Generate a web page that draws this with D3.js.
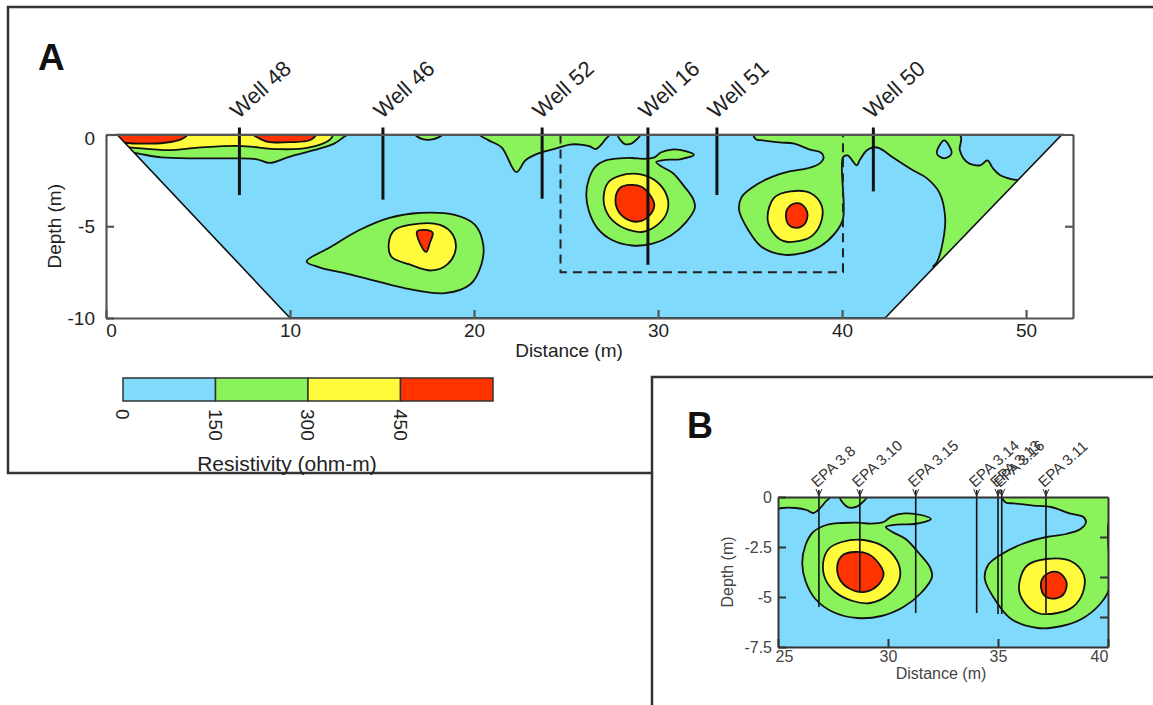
<!DOCTYPE html>
<html>
<head>
<meta charset="utf-8">
<script src="https://cdn.jsdelivr.net/npm/d3@7"></script>
<style>
  body { margin: 0; background: #fff; }
  svg { display: block; font-family: "Liberation Sans", Arial, sans-serif; }
</style>
</head>
<body>
<div id="chart"></div>
<script>
// ---- data (distance in m, depth in m) ----
const distTicksA = [0, 10, 20, 30, 40, 50];
const depthTicksA = [0, -5, -10];
const distTicksB = [25, 30, 35, 40];
const depthTicksB = [0, -2.5, -5, -7.5];
const rightTicksB = [-2, -4, -6];

// resistivity classes (ohm-m)
const resistivityBreaks = [0, 150, 300, 450, 600];
const resistivityLabels = [0, 150, 300, 450];
const classColors = ['#80dafc', '#8af35c', '#fffb3c', '#ff3300'];

// survey area (trapezoid) and zoom window of panel B
const surveyOutline = [[0.6, 0], [51.95, 0], [42.34, -10], [10.0, -10]];
const zoomDist = [24.7, 40.05];
const zoomDepth = [0, -7.5];

// wells on panel A
const wellNames = ['Well 48', 'Well 46', 'Well 52', 'Well 16', 'Well 51', 'Well 50'];
const wellDist = [7.25, 15.05, 23.7, 29.45, 33.2, 41.7];
const wellBottom = [-3.3, -3.55, -3.5, -7.1, -3.3, -3.1];

// EPA wells on panel B
const epaNames = ['EPA 3.8', 'EPA 3.10', 'EPA 3.15', 'EPA 3.14', 'EPA 3.13', 'EPA 3.16', 'EPA 3.11'];
const epaDist = [26.86, 28.72, 31.26, 34.03, 35.0, 35.17, 37.18];
const epaBottom = [-5.5, -4.75, -5.8, -5.8, -5.85, -5.85, -5.8];

// contour zones > 150 ohm-m
const greenZones = [
  [[0, 0], [13.1, 0], [12.9, -0.15], [12.4, -0.5], [11.3, -0.85], [10, -1.2], [8.9, -1.55], [8.2, -1.35],
   [7, -1.3], [5, -1.3], [3, -1.25], [1.5, -1.0], [0, -0.9]],
  [[16.8, 0], [18.3, 0], [17.8, -0.25], [17.2, -0.25]],
  [[20.3, 0], [20.8, -0.32], [21.5, -0.7], [22.3, -2.05], [22.8, -1.4], [23.5, -1.03], [24.6, -0.72],
   [25.2, -0.55], [25.8, -0.55], [26.3, -0.65], [26.6, -0.8], [26.9, -0.57], [27.15, -0.25], [27.35, 0]],
  [[27.82, 0], [27.97, -0.32], [28.2, -0.52], [28.58, -0.48], [28.88, -0.23], [29.03, 0]],
  [[27.9, -1.3], [27.2, -1.4], [26.6, -1.75], [26.25, -2.4], [26.1, -3.3], [26.25, -4.2], [26.7, -5.1],
   [27.5, -5.75], [28.6, -6.05], [29.7, -5.95], [30.7, -5.5], [31.5, -4.8], [32.0, -4.0], [31.9, -3.5],
   [31.4, -2.8], [30.8, -2.1], [30.2, -1.75], [29.9, -1.5], [30.4, -1.38], [31.2, -1.35], [31.95, -1.1],
   [31.5, -0.9], [30.75, -0.82], [30.15, -0.98], [29.8, -1.25], [29.2, -1.33], [28.6, -1.28]],
  [[10.9, -6.92], [12.15, -6.16], [13.8, -5.19], [15.4, -4.54], [17.05, -4.27], [18.95, -4.38],
   [20.05, -4.92], [20.5, -6.0], [20.4, -7.08], [19.8, -8.16], [18.4, -8.65], [16.5, -8.43],
   [14.9, -8.05], [13.25, -7.62], [11.6, -7.24]],
  [[35.2, 0], [35.35, -0.27], [35.7, -0.32], [36.6, -0.43], [37.4, -0.5], [38.25, -0.82], [38.85, -0.98],
   [39.0, -1.25], [38.75, -1.6], [38.1, -1.85], [37.2, -2.0], [36.1, -2.35], [35.1, -2.9], [34.55, -3.4],
   [34.4, -4.1], [34.9, -5.2], [35.6, -6.1], [36.8, -6.55], [37.9, -6.45], [38.8, -6.1], [39.6, -5.4],
   [40.05, -4.6], [40.05, -1.24], [40.3, -1.14], [40.8, -1.68], [40.95, -1.41], [41.35, -0.86],
   [41.7, -0.7], [42.05, -0.76], [42.75, -1.24], [43.85, -1.95], [44.6, -2.38], [45.3, -3.19],
   [45.6, -4.49], [45.5, -5.73], [45.15, -6.97], [44.95, -7.2], [46, -7.25], [56, -7.25], [56, -2.49],
   [49.55, -2.49], [48.6, -2.22], [48.2, -1.84], [47.9, -1.41], [47.5, -1.68], [46.8, -1.51],
   [46.4, -0.86], [46.4, 0]]
];
// low-resistivity pockets inside the green zone
const blueHoles = [
  [[45.55, -0.32], [45.95, -1.03], [45.55, -1.3], [45.15, -1.03]]
];
// > 300 ohm-m
const yellowZones = [
  [[0, 0], [12.3, 0], [12.2, -0.25], [11, -0.72], [9.4, -0.8], [7.2, -0.62], [5, -0.72], [3.4, -0.85],
   [1.3, -0.7], [0, -0.6]],
  [[15.4, -5.73], [15.7, -5.19], [16.5, -4.92], [18.15, -4.92], [18.85, -5.46], [19.0, -6.27],
   [18.55, -7.08], [17.7, -7.41], [16.5, -7.08], [15.5, -6.65]],
  [[27.05, -3.3], [27.3, -2.6], [27.9, -2.25], [28.9, -2.15], [29.9, -2.55], [30.5, -3.4], [30.5, -4.2],
   [30.0, -4.9], [29.2, -5.3], [28.4, -5.2], [27.6, -4.75], [27.15, -4.1]],
  [[35.95, -4.5], [36.3, -3.45], [37.2, -3.1], [38.3, -3.2], [38.9, -3.9], [38.85, -4.8], [38.4, -5.5],
   [37.7, -5.8], [36.8, -5.8], [36.15, -5.2]]
];
// > 450 ohm-m
const redZones = [
  [[0, 0], [4.4, 0], [4.1, -0.25], [3.2, -0.45], [2, -0.5], [1, -0.45], [0, -0.3]],
  [[8.0, 0], [11.4, 0], [11.1, -0.3], [10, -0.42], [8.8, -0.4], [8.3, -0.2]],
  [[16.9, -5.3], [17.3, -5.2], [17.75, -5.35], [17.6, -5.9], [17.4, -6.4], [17.05, -5.9]],
  [[27.7, -3.4], [27.95, -2.9], [28.5, -2.75], [29.1, -2.85], [29.6, -3.35], [29.8, -3.85], [29.5, -4.45],
   [28.9, -4.75], [28.2, -4.55], [27.8, -4.1]],
  [[36.97, -4.2], [37.3, -3.8], [37.8, -3.8], [38.12, -4.3], [37.95, -4.9], [37.45, -5.08], [37.05, -4.85]]
];

// ---- drawing ----
const width = 1153, height = 705;
const svg = d3.select('#chart').append('svg')
  .attr('width', width)
  .attr('height', height);
const defs = svg.append('defs');

// frame of panel A
svg.append('rect')
  .attr('x', 8).attr('y', 7).attr('width', 1170).attr('height', 466)
  .attr('fill', '#fff').attr('stroke', '#333').attr('stroke-width', 2.5);

function drawContours(g, xs, ys) {
  const smooth = d3.line()
    .x(d => xs(d[0])).y(d => ys(d[1]))
    .curve(d3.curveCatmullRomClosed.alpha(0.5));
  const layers = [
    [greenZones, classColors[1]],
    [blueHoles, classColors[0]],
    [yellowZones, classColors[2]],
    [redZones, classColors[3]]
  ];
  layers.forEach(([zones, color]) => {
    g.append('g').selectAll('path')
      .data(zones)
      .join('path')
      .attr('d', smooth)
      .attr('fill', color)
      .attr('stroke', '#111')
      .attr('stroke-width', 1.8)
      .attr('stroke-linejoin', 'round');
  });
}

function numFmt(d) { return String(d); }

// ===== Panel A =====
const xA = d3.scaleLinear().domain([0, 52.55]).range([106, 1073]);
const yA = d3.scaleLinear().domain([0, -10]).range([134.5, 318]);
const outline = d3.line().x(d => xA(d[0])).y(d => yA(d[1])).curve(d3.curveLinearClosed);

defs.append('clipPath').attr('id', 'clipA')
  .append('path').attr('d', outline(surveyOutline));

const gA = svg.append('g');
const sectA = gA.append('g').attr('clip-path', 'url(#clipA)');
sectA.append('path').attr('d', outline(surveyOutline)).attr('fill', classColors[0]);
drawContours(sectA, xA, yA);
gA.append('path').attr('d', outline(surveyOutline))
  .attr('fill', 'none').attr('stroke', '#111').attr('stroke-width', 1.6);

// dashed window of panel B
gA.append('path')
  .attr('d', `M${xA(zoomDist[0])},${yA(zoomDepth[0])}V${yA(zoomDepth[1])}H${xA(zoomDist[1])}V${yA(zoomDepth[0])}`)
  .attr('fill', 'none').attr('stroke', '#222').attr('stroke-width', 2)
  .attr('stroke-dasharray', '9,6');

// wells
const wellsA = gA.append('g');
wellsA.selectAll('line')
  .data(wellNames)
  .join('line')
  .attr('x1', (d, i) => xA(wellDist[i])).attr('x2', (d, i) => xA(wellDist[i]))
  .attr('y1', yA(0) - 7).attr('y2', (d, i) => yA(wellBottom[i]))
  .attr('stroke', '#111').attr('stroke-width', 3);
wellsA.selectAll('text')
  .data(wellNames)
  .join('text')
  .attr('transform', (d, i) => `translate(${xA(wellDist[i]) - 1},${yA(0) - 15}) rotate(-42)`)
  .attr('font-size', 22).attr('fill', '#222')
  .text(d => d);

// axes A
const axisStyle = (g, color, w) => {
  g.select('.domain').attr('stroke', color).attr('stroke-width', w);
  g.selectAll('.tick line').attr('stroke', color).attr('stroke-width', w);
};
const axB = gA.append('g')
  .attr('transform', `translate(0,${yA(-10)})`)
  .call(d3.axisBottom(xA).tickValues(distTicksA).tickFormat(numFmt)
    .tickSizeInner(-8).tickSizeOuter(0).tickPadding(6));
axB.call(axisStyle, '#555', 2.2);
axB.selectAll('text').attr('font-size', 19).attr('fill', '#222').attr('font-family', null);
axB.selectAll('.tick text').filter(d => d === 0).attr('x', 5);

const axT = gA.append('g')
  .attr('transform', `translate(0,${yA(0)})`)
  .call(d3.axisTop(xA).tickValues([]).tickSizeOuter(0));
axT.call(axisStyle, '#555', 2.2);

const axL = gA.append('g')
  .attr('transform', `translate(${xA.range()[0]},0)`)
  .call(d3.axisLeft(yA).tickValues(depthTicksA).tickFormat(numFmt)
    .tickSizeInner(-8).tickSizeOuter(0).tickPadding(11));
axL.call(axisStyle, '#555', 2.2);
axL.selectAll('text').attr('font-size', 19).attr('fill', '#222').attr('font-family', null);
axL.selectAll('.tick text').filter(d => d === 0).attr('dy', '0.55em');

const axR = gA.append('g')
  .attr('transform', `translate(${xA.range()[1]},0)`)
  .call(d3.axisRight(yA).tickValues([-5]).tickFormat('')
    .tickSizeInner(-8).tickSizeOuter(0));
axR.call(axisStyle, '#555', 2.2);

gA.append('text')
  .attr('x', 569).attr('y', 357)
  .attr('text-anchor', 'middle').attr('font-size', 19).attr('fill', '#222')
  .text('Distance (m)');
gA.append('text')
  .attr('transform', `translate(61,${(yA(0) + yA(-10)) / 2}) rotate(-90)`)
  .attr('text-anchor', 'middle').attr('font-size', 19).attr('fill', '#222')
  .text('Depth (m)');

gA.append('text')
  .attr('x', 38).attr('y', 70)
  .attr('font-size', 37).attr('font-weight', 'bold').attr('fill', '#111')
  .text('A');

// colour bar
const cb = d3.scaleLinear().domain([0, 600]).range([123, 493]);
const gCb = gA.append('g');
gCb.selectAll('rect')
  .data(d3.pairs(resistivityBreaks))
  .join('rect')
  .attr('x', d => cb(d[0])).attr('width', d => cb(d[1]) - cb(d[0]))
  .attr('y', 378).attr('height', 23)
  .attr('fill', (d, i) => classColors[i])
  .attr('stroke', '#333').attr('stroke-width', 1.5);
gCb.selectAll('text.lab')
  .data(resistivityLabels)
  .join('text')
  .attr('class', 'lab')
  .attr('transform', d => `translate(${cb(d)},409) rotate(90)`)
  .attr('dy', '0.35em')
  .attr('font-size', 19).attr('fill', '#222')
  .text(d => d);
gCb.append('text')
  .attr('x', 287).attr('y', 471)
  .attr('text-anchor', 'middle').attr('font-size', 21).attr('fill', '#222')
  .text('Resistivity (ohm-m)');

// ===== Panel B =====
svg.append('rect')
  .attr('x', 652).attr('y', 377).attr('width', 540).attr('height', 360)
  .attr('fill', '#fff').attr('stroke', '#333').attr('stroke-width', 2.5);

const xB = d3.scaleLinear().domain([25, 40]).range([778, 1108]);
const yB = d3.scaleLinear().domain([0, -7.5]).range([497, 647]);
const gB = svg.append('g');

defs.append('clipPath').attr('id', 'clipB')
  .append('rect')
  .attr('x', xB(25)).attr('y', yB(0))
  .attr('width', xB(40) - xB(25)).attr('height', yB(-7.5) - yB(0));

const sectB = gB.append('g').attr('clip-path', 'url(#clipB)');
sectB.append('rect')
  .attr('x', xB(25)).attr('y', yB(0))
  .attr('width', xB(40) - xB(25)).attr('height', yB(-7.5) - yB(0))
  .attr('fill', classColors[0]);
drawContours(sectB, xB, yB);

// EPA wells
const wellsB = gB.append('g');
wellsB.selectAll('line')
  .data(epaNames)
  .join('line')
  .attr('x1', (d, i) => xB(epaDist[i])).attr('x2', (d, i) => xB(epaDist[i]))
  .attr('y1', yB(0) - 7).attr('y2', (d, i) => yB(epaBottom[i]))
  .attr('stroke', '#111').attr('stroke-width', 1.6);
wellsB.selectAll('path')
  .data(epaNames)
  .join('path')
  .attr('d', (d, i) => {
    const x = xB(epaDist[i]), y = yB(0);
    return `M${x - 3},${y - 8}L${x},${y - 1}L${x + 3},${y - 8}`;
  })
  .attr('fill', 'none').attr('stroke', '#333').attr('stroke-width', 1);
wellsB.selectAll('text')
  .data(epaNames)
  .join('text')
  .attr('transform', (d, i) => `translate(${xB(epaDist[i]) - 2},${yB(0) - 9}) rotate(-42)`)
  .attr('font-size', 15).attr('fill', '#333')
  .text(d => d);

// axes B
const bxB = gB.append('g')
  .attr('transform', `translate(0,${yB(-7.5)})`)
  .call(d3.axisBottom(xB).tickValues(distTicksB).tickFormat(numFmt)
    .tickSizeInner(-8).tickSizeOuter(0).tickPadding(4));
bxB.call(axisStyle, '#333', 2);
bxB.selectAll('text').attr('font-size', 16).attr('fill', '#444').attr('font-family', null);
bxB.selectAll('.tick text').filter(d => d === 25).attr('x', 6);
bxB.selectAll('.tick text').filter(d => d === 40).attr('x', -9);

const bxT = gB.append('g')
  .attr('transform', `translate(0,${yB(0)})`)
  .call(d3.axisTop(xB).tickValues([]).tickSizeOuter(0));
bxT.call(axisStyle, '#333', 2);

const byL = gB.append('g')
  .attr('transform', `translate(${xB(25)},0)`)
  .call(d3.axisLeft(yB).tickValues(depthTicksB).tickFormat(numFmt)
    .tickSizeInner(-8).tickSizeOuter(0).tickPadding(6));
byL.call(axisStyle, '#333', 2);
byL.selectAll('text').attr('font-size', 16).attr('fill', '#444').attr('font-family', null);

const byR = gB.append('g')
  .attr('transform', `translate(${xB(40)},0)`)
  .call(d3.axisRight(yB).tickValues(rightTicksB).tickFormat('')
    .tickSizeInner(-8).tickSizeOuter(0));
byR.call(axisStyle, '#333', 2);

gB.append('text')
  .attr('x', (xB(25) + xB(40)) / 2 - 2).attr('y', 679)
  .attr('text-anchor', 'middle').attr('font-size', 16).attr('fill', '#444')
  .text('Distance (m)');
gB.append('text')
  .attr('transform', `translate(733,${(yB(0) + yB(-7.5)) / 2}) rotate(-90)`)
  .attr('text-anchor', 'middle').attr('font-size', 16).attr('fill', '#444')
  .text('Depth (m)');

gB.append('text')
  .attr('x', 687).attr('y', 438)
  .attr('font-size', 36).attr('font-weight', 'bold').attr('fill', '#111')
  .text('B');
</script>
</body>
</html>
